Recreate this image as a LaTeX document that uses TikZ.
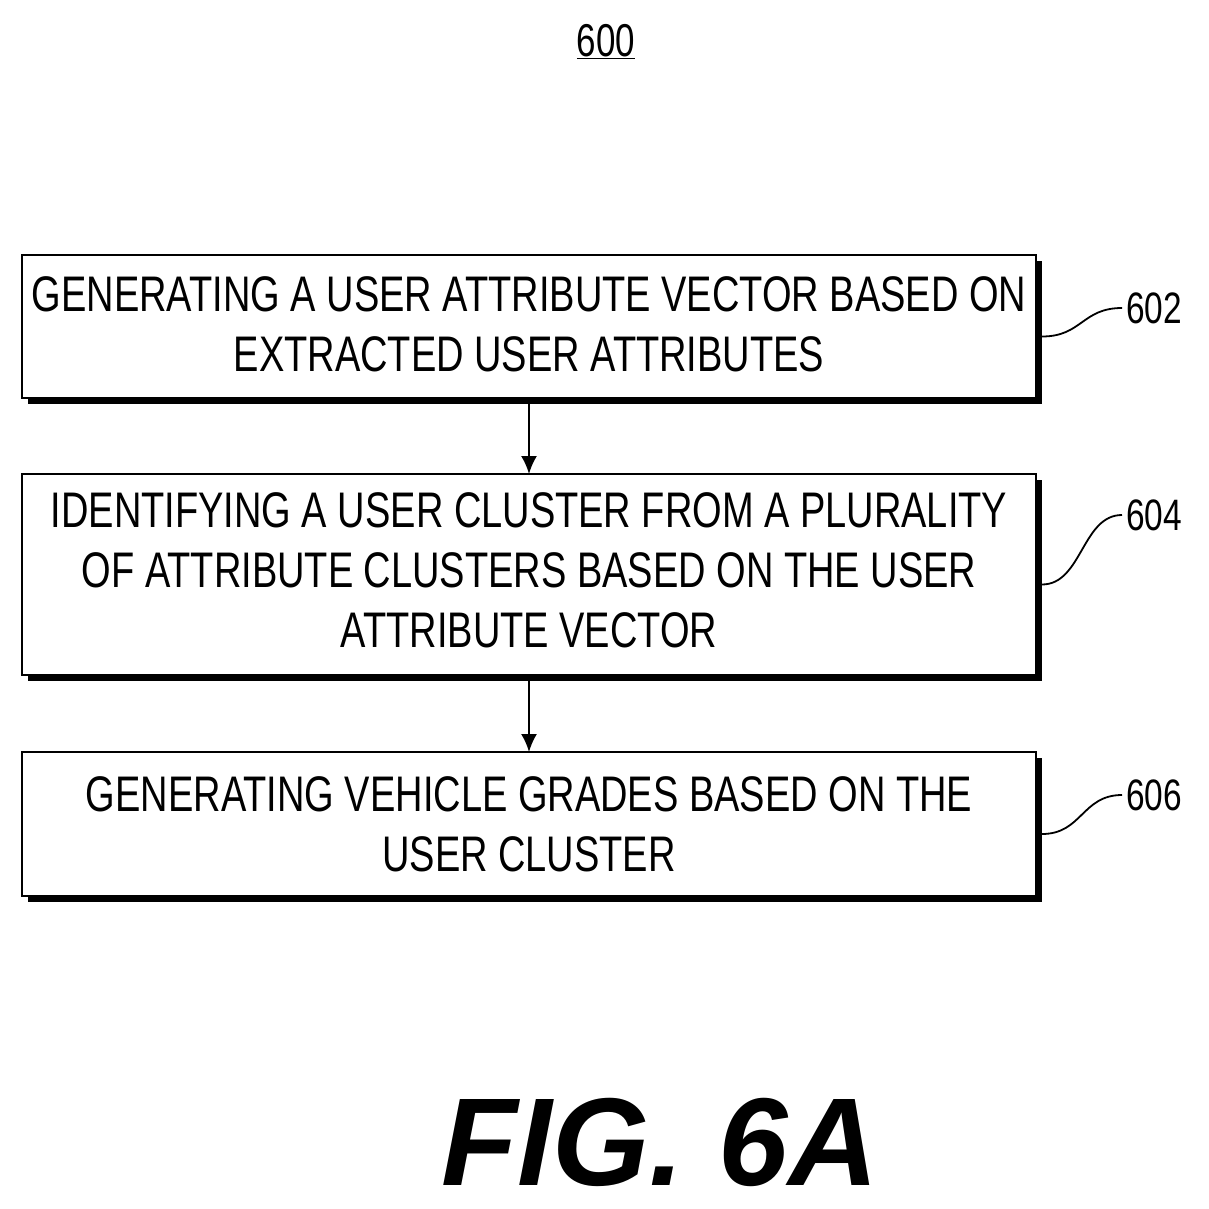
\documentclass[tikz,border=0pt]{standalone}
\usetikzlibrary{arrows.meta}
\usepackage{fontspec}
\setmainfont{Liberation Sans}[FakeStretch=0.76]
\newfontfamily\figfont{Liberation Sans}
\begin{document}
\begin{tikzpicture}[x=1pt,y=-1pt,
  box/.style={draw,line width=2pt,inner sep=0pt},
  shadow/.style={fill=black},
  txt/.style={align=center,font=\fontsize{50}{60}\selectfont,inner sep=0pt},
  lbl/.style={font=\fontsize{44}{50}\selectfont,inner sep=0pt},
  arr/.style={line width=2pt,-{Latex[length=18pt,width=16pt]}},
  squig/.style={line width=1.8pt}]
\useasboundingbox (0,0) rectangle (1208,1209);
\node[lbl,font=\fontsize{46}{50}\selectfont] (t) at (606,42) {\underline{600}};
% boxes with shadows
\foreach \n/\a/\b in {b1/255/398,b2/474/675,b3/752/896}{
  \fill (28,\a+6) rectangle (1042,\b+6);
  \draw[box,fill=white] (22,\a) rectangle (1036,\b);
  \coordinate (\n) at (529,{(\a+\b)/2});
  \coordinate (\n t) at (529,\a);
  \coordinate (\n b) at (529,\b+6);
  \coordinate (\n r) at (1042,{(\a+\b)/2+10});
}
\node[txt] (x1) at (529,324) {GENERATING A USER ATTRIBUTE VECTOR BASED ON\\EXTRACTED USER ATTRIBUTES};
\node[txt] (x2) at (529,570) {IDENTIFYING A USER CLUSTER FROM A PLURALITY\\OF ATTRIBUTE CLUSTERS BASED ON THE USER\\ATTRIBUTE VECTOR};
\node[txt] (x3) at (529,824) {GENERATING VEHICLE GRADES BASED ON THE\\USER CLUSTER};
\draw[arr] (b1b) -- (b2t);
\draw[arr] (b2b) -- (b3t);
\node[lbl,anchor=west] (l1) at (1126,308) {602};
\node[lbl,anchor=west] (l2) at (1126,515) {604};
\node[lbl,anchor=west] (l3) at (1126,795) {606};
\foreach \r/\l in {b1r/l1,b2r/l2,b3r/l3}{
  \draw[squig] (\r) .. controls ++(40,0) and ++(-40,0) .. ([xshift=-4pt]\l.west);
}
\node[font=\figfont\fontsize{125}{130}\selectfont\bfseries\itshape,inner sep=0pt] (fig) at (660,1142) {FIG. 6A};
\end{tikzpicture}
\end{document}
